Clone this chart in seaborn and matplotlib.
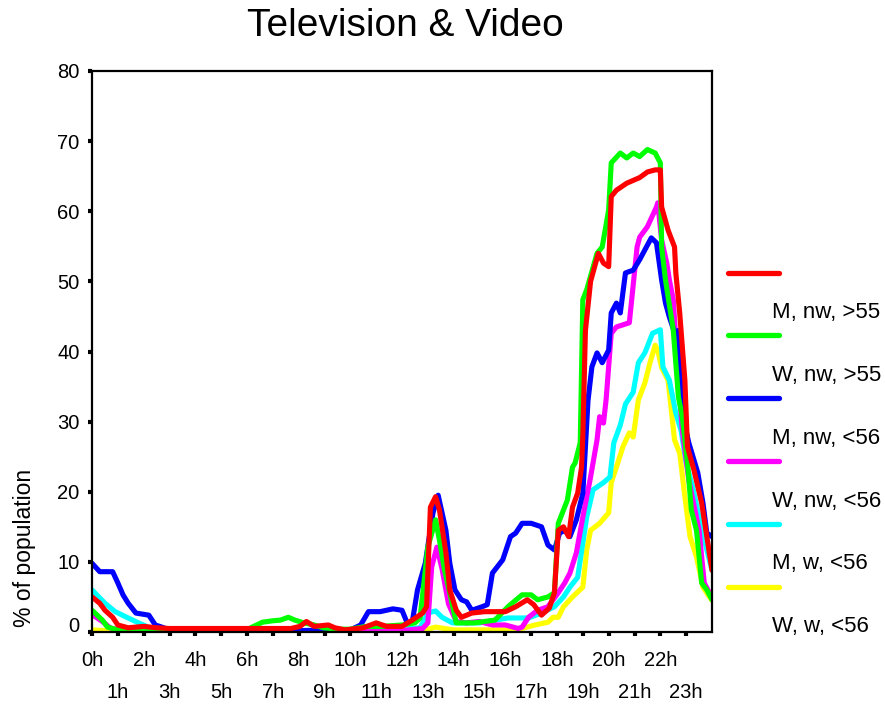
import numpy as np
import pandas as pd
import matplotlib
matplotlib.use("Agg")
import matplotlib.pyplot as plt
import matplotlib.transforms as mtransforms
from matplotlib.lines import Line2D
import seaborn as sns

# ---------------- data (hour of day, % of population) ----------------
labels = ["M, nw, >55", "W, nw, >55", "M, nw, <56", "W, nw, <56", "M, w, <56", "W, w, <56"]
colors = ["#ff0000", "#00ff00", "#0000ff", "#ff00ff", "#00ffff", "#ffff00"]

red_h = [0, 0.3, 0.5, 0.8, 1.0, 1.4, 2.0, 2.5, 3, 4, 5, 6, 7, 7.7, 8.05, 8.3, 8.6, 9.15, 9.4, 9.8,
         10.5, 11.0, 11.4, 12.0, 12.4, 12.8, 12.95, 13.1, 13.3, 13.45, 13.7, 13.85, 14.1, 14.3, 14.7,
         15.2, 16.0, 16.4, 16.85, 17.1, 17.4, 17.7, 17.9, 18.05, 18.25, 18.45, 18.6, 18.8, 18.95, 19.0,
         19.1, 19.3, 19.6, 19.8, 20.0, 20.1, 20.3, 20.7, 21.2, 21.5, 21.8, 22.0, 22.05, 22.3, 22.55,
         22.6, 22.75, 22.95, 23.05, 23.3, 23.6, 23.8, 24.0]
red_v = [5.0, 4.1, 3.1, 2.1, 1.0, 0.6, 0.8, 0.6, 0.5, 0.5, 0.5, 0.5, 0.5, 0.5, 0.8, 1.5, 0.8, 1.0, 0.6, 0.3,
         0.6, 1.3, 0.8, 0.8, 1.7, 2.7, 3.6, 17.8, 19.3, 17.4, 11.3, 6.0, 3.1, 2.1, 2.7,
         2.9, 2.9, 3.6, 4.6, 3.9, 2.4, 3.4, 5.6, 14.5, 15.0, 13.6, 17.8, 19.8, 23.5, 28.0,
         43.0, 50.0, 54.0, 52.6, 52.1, 62.1, 63.0, 64.0, 64.8, 65.6, 65.9, 65.9, 60.6, 57.3, 54.9,
         51.2, 45.5, 35.9, 26.4, 23.1, 18.4, 13.6, 8.8]

green_h = [0, 0.4, 0.6, 0.9, 1.5, 3, 6.0, 6.2, 6.6, 7.0, 7.3, 7.6, 7.85, 8.2, 8.6, 8.95, 9.5, 10.0, 10.6,
           11.2, 12.0, 12.5, 12.7, 13.0, 13.3, 13.45, 13.65, 13.85, 14.1, 14.8, 15.6, 16.1, 16.65, 17.0,
           17.25, 17.65, 17.9, 18.05, 18.4, 18.6, 18.7, 18.9, 19.0, 19.15, 19.55, 19.75, 20.0, 20.1,
           20.45, 20.7, 20.95, 21.2, 21.5, 21.8, 22.0, 22.05, 22.2, 22.3, 22.5, 22.7, 22.85, 23.05,
           23.2, 23.4, 23.6, 23.8, 24.0]
green_v = [3.1, 1.7, 0.7, 0.4, 0.2, 0.2, 0.3, 0.7, 1.4, 1.6, 1.7, 2.1, 1.7, 1.3, 1.0, 0.6, 0.4, 0.4, 0.8,
           0.8, 1.0, 1.3, 2.0, 12.1, 16.0, 13.1, 8.8, 5.6, 1.3, 1.3, 1.7, 3.6, 5.3, 5.3,
           4.6, 5.0, 5.6, 15.5, 18.8, 23.5, 24.1, 27.0, 47.4, 48.8, 54.0, 54.9, 60.2, 66.9,
           68.3, 67.6, 68.3, 67.8, 68.8, 68.3, 66.9, 54.9, 50.2, 47.8, 43.1, 33.5, 30.7, 24.1,
           17.4, 14.5, 7.0, 6.0, 4.6]

blue_h = [0, 0.3, 0.8, 1.0, 1.2, 1.4, 1.7, 2.2, 2.45, 2.7, 3.0, 4, 6, 8, 10.0, 10.4, 10.7, 11.15, 11.65,
          12.0, 12.2, 12.4, 12.6, 12.9, 13.2, 13.4, 13.7, 13.85, 14.05, 14.3, 14.5, 14.7, 15.1, 15.3,
          15.5, 15.9, 16.2, 16.4, 16.65, 17.0, 17.4, 17.65, 17.9, 18.1, 18.3, 18.5, 18.75, 19.0, 19.2,
          19.35, 19.55, 19.75, 20.0, 20.1, 20.3, 20.45, 20.65, 20.95, 21.2, 21.65, 21.85, 22.05, 22.2,
          22.35, 22.55, 22.7, 22.85, 23.1, 23.45, 23.65, 23.8, 24.0]
blue_v = [9.8, 8.6, 8.6, 7.0, 5.3, 4.1, 2.7, 2.4, 1.0, 0.7, 0.3, 0.2, 0.2, 0.2, 0.3, 1.0, 2.9, 2.9, 3.3,
          3.1, 1.3, 1.5, 6.0, 9.8, 17.0, 19.5, 14.5, 9.8, 6.0, 4.6, 4.3, 3.1, 3.6, 3.9,
          8.4, 10.3, 13.6, 14.1, 15.5, 15.5, 15.0, 12.4, 11.7, 14.1, 14.5, 13.6, 16.0, 19.8, 33.0,
          37.8, 39.8, 38.4, 40.2, 45.5, 46.9, 45.5, 51.2, 51.6, 53.1, 56.2, 55.5, 50.2, 46.9,
          44.9, 42.7, 43.0, 31.2, 27.0, 22.7, 18.4, 14.1, 13.6]

magenta_h = [0, 0.4, 0.7, 1.0, 1.5, 3, 6, 8, 10, 12, 12.8, 13.0, 13.15, 13.35, 13.55, 13.8, 14.1, 14.5,
             15.0, 15.5, 16.0, 16.5, 16.65, 16.9, 17.25, 17.65, 18.05, 18.3, 18.5, 18.75, 19.0, 19.3,
             19.55, 19.65, 19.8, 19.9, 20.1, 20.3, 20.8, 21.1, 21.2, 21.5, 21.85, 21.9, 22.05, 22.25,
             22.35, 22.5, 22.7, 22.85, 23.1, 23.5, 23.7, 23.9, 24.0]
magenta_v = [2.5, 1.5, 0.6, 0.3, 0.1, 0.1, 0.1, 0.1, 0.1, 0.2, 0.5, 1.3, 9.3, 12.1, 9.0, 4.0, 1.5, 1.3,
             1.5, 1.0, 1.0, 0.5, 0.7, 2.1, 3.1, 3.6, 5.6, 7.0, 8.4, 11.3, 16.4, 22.1,
             27.4, 30.7, 29.8, 33.1, 42.6, 43.5, 44.1, 54.9, 56.3, 57.8, 60.6, 61.2, 55.9, 52.6,
             50.2, 47.4, 36.0, 28.8, 21.7, 14.5, 7.0, 5.6, 5.0]

cyan_h = [0, 0.5, 0.9, 1.4, 1.8, 2.3, 3, 6, 8, 10, 12, 12.7, 13.0, 13.3, 13.55, 13.95, 15.0, 16.1, 16.9,
          17.4, 17.9, 18.25, 18.5, 18.8, 19.15, 19.4, 19.8, 20.05, 20.2, 20.45, 20.65, 20.95, 21.15,
          21.4, 21.7, 22.0, 22.1, 22.35, 22.6, 22.8, 23.0, 23.25, 23.5, 23.8, 24.0]
cyan_v = [6.0, 4.1, 2.9, 2.0, 1.3, 0.5, 0.3, 0.2, 0.2, 0.3, 0.4, 0.6, 2.7, 3.0, 2.1, 1.3, 1.3, 2.0, 2.0,
          2.7, 3.6, 5.0, 6.4, 7.8, 16.4, 20.3, 21.3, 22.1, 27.0, 29.5, 32.5, 34.2, 38.4,
          39.8, 42.6, 43.1, 37.8, 35.9, 31.2, 28.8, 24.1, 20.7, 16.4, 11.7, 8.8]

yellow_h = [0, 1, 3, 6, 10, 12.5, 13.0, 13.3, 14, 16.5, 16.65, 17.15, 17.65, 17.85, 18.05, 18.25, 18.6,
            19.0, 19.15, 19.3, 19.65, 20.0, 20.1, 20.3, 20.55, 20.8, 20.95, 21.15, 21.4, 21.6, 21.8,
            21.9, 22.05, 22.3, 22.55, 22.75, 22.95, 23.15, 23.4, 23.65, 23.9, 24.0]
yellow_v = [0.3, 0.1, 0.1, 0.1, 0.1, 0.1, 0.4, 0.7, 0.3, 0.3, 0.5, 1.0, 1.4, 2.1, 2.1, 3.6, 5.0,
            6.4, 11.7, 14.5, 15.5, 17.0, 21.3, 23.5, 26.4, 28.4, 27.8, 33.1, 35.5, 38.4, 40.9,
            40.2, 37.7, 35.9, 27.4, 25.5, 19.3, 13.6, 10.7, 6.4, 5.0, 4.5]

series_h = [red_h, green_h, blue_h, magenta_h, cyan_h, yellow_h]
series_v = [red_v, green_v, blue_v, magenta_v, cyan_v, yellow_v]

even_ticks = list(range(0, 24, 2))
odd_ticks = list(range(1, 24, 2))
y_ticks = list(range(0, 81, 10))

# ---------------- style ----------------
sns.set_style("white")
plt.rcParams["font.family"] = ["Liberation Sans", "DejaVu Sans"]

fig = plt.figure(figsize=(8.85, 7.06), dpi=100)
ax = fig.add_axes([92 / 885, 1 - 632 / 706, 620 / 885, 561 / 706])

frames = []
for lab, h, v in zip(labels, series_h, series_v):
    frames.append(pd.DataFrame({"hour": h, "pct": v, "group": lab}))
df = pd.concat(frames, ignore_index=True)

# draw in reverse order so red ends on top
for lab, col in reversed(list(zip(labels, colors))):
    sub = df[df["group"] == lab]
    sns.lineplot(data=sub, x="hour", y="pct", color=col, linewidth=3.7,
                 estimator=None, sort=False, legend=False, ax=ax)

ax.set_xlim(0, 24)
ax.set_ylim(0, 80)
ax.set_xlabel("")
ax.set_ylabel("")

ax.set_xticks(even_ticks)
ax.set_xticklabels([f"{h}h" for h in even_ticks])
ax.set_xticks(odd_ticks, minor=True)
ax.set_xticklabels([f"{h}h" for h in odd_ticks], minor=True)
ax.set_yticks(y_ticks)
ax.set_yticklabels([str(t) for t in y_ticks])

ax.tick_params(axis="both", which="both", direction="out", length=3, width=3,
               color="black", labelsize=14.5, labelcolor="black")
ax.tick_params(axis="x", which="major", pad=11)
ax.tick_params(axis="x", which="minor", pad=34)
ax.tick_params(axis="y", pad=6)
ax.tick_params(bottom=True, left=True, which="both")

for side in ["left", "bottom", "top", "right"]:
    ax.spines[side].set_visible(True)
    ax.spines[side].set_color("black")
    ax.spines[side].set_linewidth(1.6)

# lift the "0" label slightly as in the original
lbl0 = ax.get_yticklabels()[0]
lbl0.set_transform(lbl0.get_transform() +
                   mtransforms.ScaledTranslation(0, 7 / 100, fig.dpi_scale_trans))

fig.text(405 / 885, 1 - 26 / 706, "Television & Video", ha="center", va="center",
         fontsize=28, color="black")
fig.text(25 / 885, 1 - 548 / 706, "% of population", rotation=90, ha="center",
         va="center", fontsize=16.5, color="black")

# legend: line samples with labels set below them
leg_y0 = 272.7
leg_step = 62.8
for i, (lab, col) in enumerate(zip(labels, colors)):
    y = leg_y0 + i * leg_step
    fig.add_artist(Line2D([728 / 885, 779 / 885], [1 - y / 706, 1 - y / 706],
                          color=col, linewidth=3.8, transform=fig.transFigure))
    fig.text(772 / 885, 1 - (y + 40) / 706, lab, ha="left", va="center",
             fontsize=16, color="black")

fig.savefig("out.png", dpi=100, facecolor="white")
